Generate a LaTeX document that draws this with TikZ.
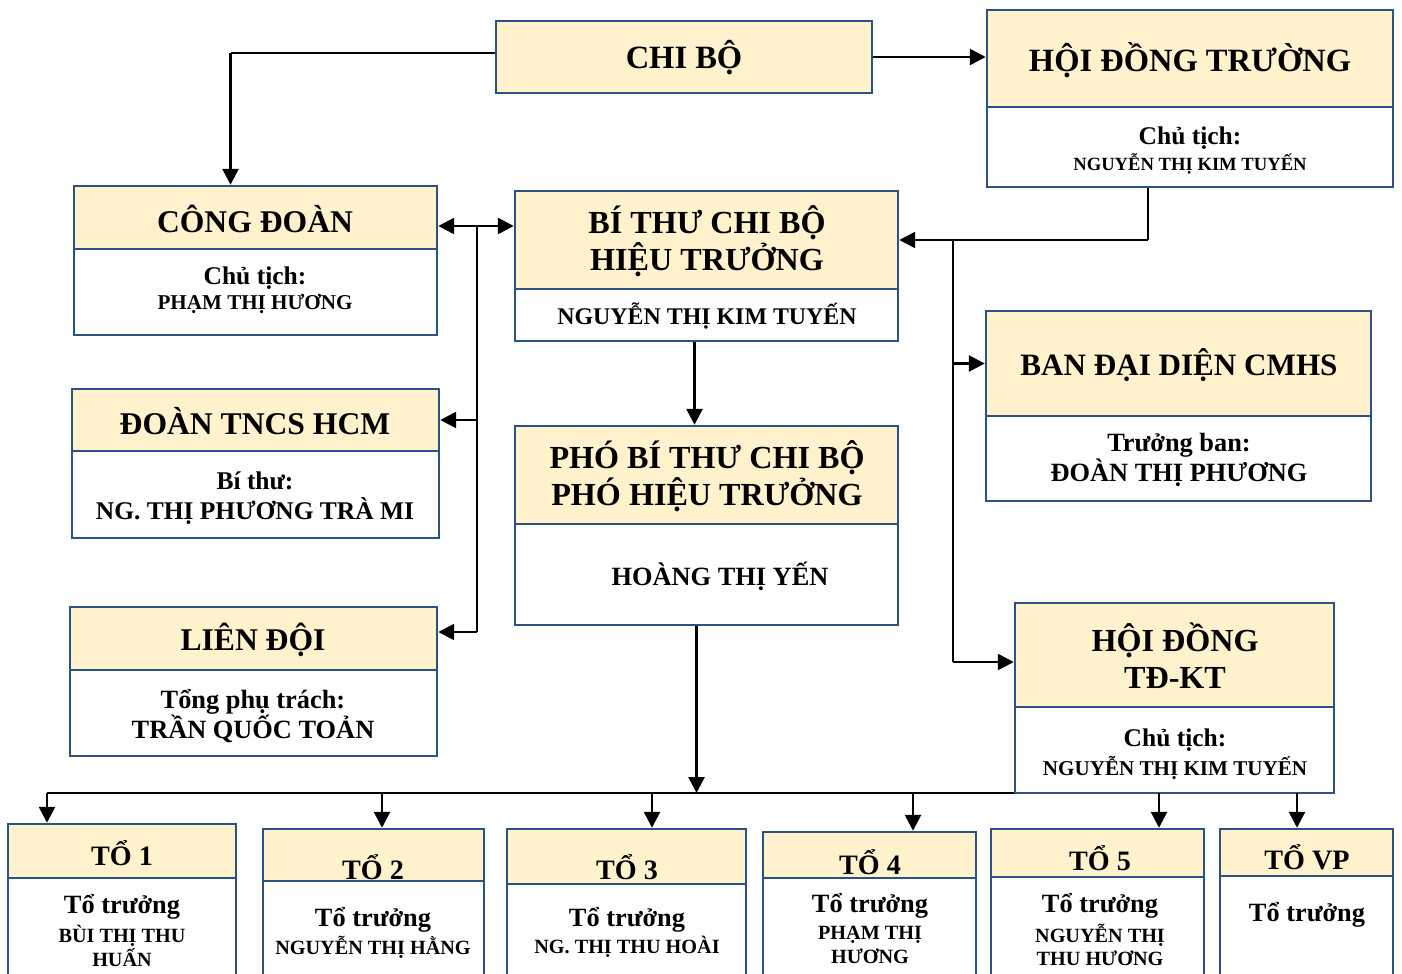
\documentclass[tikz,border=0pt]{standalone}
\usepackage{fontspec}
\setmainfont{Liberation Serif}
\usetikzlibrary{arrows.meta,calc,fit}
\definecolor{bord}{RGB}{44,82,130}
\definecolor{cream}{RGB}{255,242,204}
\newcommand\fsz[1]{\fontsize{#1pt}{1.16\dimexpr#1pt\relax}\selectfont}
\tikzset{
  tbox/.style={draw=bord, line width=1.4pt, fill=cream, inner sep=0pt},
  bbox/.style={draw=bord, line width=1.4pt, fill=white, inner sep=0pt},
  txt/.style={inner sep=0pt, align=center, font=\bfseries},
  ln/.style={line width=1.5pt},
  thinln/.style={line width=0.9pt},
  tip/.style={-{Triangle[length=9pt,width=9pt]}},
  tips/.style={{Triangle[length=9pt,width=9pt]}-{Triangle[length=9pt,width=9pt]}},
}
\newcommand\orgbox[6]{%
  \node[tbox, fit={(#2,#3) (#4,#5)}] (#1T) {};
  \node[bbox, fit={(#2,#5) (#4,#6)}] (#1B) {};}
\begin{document}
\begin{tikzpicture}[x=0.02cm,y=-0.02cm]
\useasboundingbox (0,0) rectangle (1402,973);
% bus (drawn first, under the boxes)
\coordinate (busL) at (47,793);
\coordinate (busR) at (1297,793);
\draw[thinln] (busL) -- (busR);
% boxes
\node[tbox, fit={(496,21) (872,93)}] (chibo) {};
\orgbox{hdt}{987}{10}{1393}{107}{187}
\orgbox{cd}{74}{186}{437}{249}{335}
\orgbox{bt}{515}{191}{898}{289}{341}
\orgbox{dt}{72}{389}{439}{451}{538}
\orgbox{pbt}{515}{426}{898}{524}{625}
\orgbox{bdd}{986}{311}{1371}{416}{501}
\orgbox{hdk}{1015}{603}{1334}{707}{793}
\orgbox{ld}{70}{607}{437}{670}{756}
\orgbox{ta}{8}{824}{236}{878}{990}
\orgbox{tb}{263}{829}{484}{881}{990}
\orgbox{tc}{507}{829}{746}{884}{990}
\orgbox{td}{763}{832}{976}{878}{990}
\orgbox{te}{991}{829}{1204}{877}{990}
\orgbox{tf}{1220}{829}{1393}{876}{990}
% texts
\node[txt, font=\bfseries\fsz{18.5}] (chiboX) at (684,58) {CHI BỘ};
\node[txt, font=\bfseries\fsz{18.5}] (hdtX) at (1190,60) {HỘI ĐỒNG TRƯỜNG};
\node[txt, font=\bfseries\fsz{14.5}] (hdtY) at (1190,138) {Chủ tịch:};
\node[txt, font=\bfseries\fsz{10.6}] (hdtZ) at (1190,164) {NGUYỄN THỊ KIM TUYẾN};
\node[txt, font=\bfseries\fsz{18}] (cdX) at (255,219) {CÔNG ĐOÀN};
\node[txt, font=\bfseries\fsz{14.5}] (cdY) at (255,278) {Chủ tịch:};
\node[txt, font=\bfseries\fsz{12}] (cdZ) at (255,304) {PHẠM THỊ HƯƠNG};
\node[txt, font=\bfseries\fsz{18.3}] (btX) at (707,241) {BÍ THƯ CHI BỘ\\HIỆU TRƯỞNG};
\node[txt, font=\bfseries\fsz{13.6}] (btY) at (707,316) {NGUYỄN THỊ KIM TUYẾN};
\node[txt, font=\bfseries\fsz{18}] (dtX) at (255,421) {ĐOÀN TNCS HCM};
\node[txt, font=\bfseries\fsz{14.5}] (dtY) at (255,498) {Bí thư:\\NG. THỊ PHƯƠNG TRÀ MI};
\node[txt, font=\bfseries\fsz{18.3}] (pbtX) at (707,476) {PHÓ BÍ THƯ CHI BỘ\\PHÓ HIỆU TRƯỞNG};
\node[txt, font=\bfseries\fsz{15}] (pbtY) at (720,576) {HOÀNG THỊ YẾN};
\node[txt, font=\bfseries\fsz{18}] (ldX) at (253,640) {LIÊN ĐỘI};
\node[txt, font=\bfseries\fsz{15}] (ldY) at (253,716) {Tổng phụ trách:\\TRẦN QUỐC TOẢN};
\node[txt, font=\bfseries\fsz{17.7}] (bddX) at (1179,365) {BAN ĐẠI DIỆN CMHS};
\node[txt, font=\bfseries\fsz{15}] (bddY) at (1179,460) {Trưởng ban:\\ĐOÀN THỊ PHƯƠNG};
\node[txt, font=\bfseries\fsz{18.3}] (hdkX) at (1175,656) {HỘI ĐỒNG\\TĐ-KT};
\node[txt, font=\bfseries\fsz{14.5}] (hdkY) at (1175,740) {Chủ tịch:};
\node[txt, font=\bfseries\fsz{12}] (hdkZ) at (1175,768) {NGUYỄN THỊ KIM TUYẾN};
% bottom groups
\node[txt, font=\bfseries\fsz{16}] (taX) at (122,853) {TỔ 1};
\node[txt, font=\bfseries\fsz{15}] (taY) at (122,907) {Tổ trưởng};
\node[txt, font=\bfseries\fsz{11.5}] (taZ) at (122,946) {BÙI THỊ THU\\HUẤN};
\node[txt, font=\bfseries\fsz{16}] (tbX) at (373,867) {TỔ 2};
\node[txt, font=\bfseries\fsz{15}] (tbY) at (373,920) {Tổ trưởng};
\node[txt, font=\bfseries\fsz{11.5}] (tbZ) at (373,947) {NGUYỄN THỊ HẰNG};
\node[txt, font=\bfseries\fsz{16}] (tcX) at (627,867) {TỔ 3};
\node[txt, font=\bfseries\fsz{15}] (tcY) at (627,920) {Tổ trưởng};
\node[txt, font=\bfseries\fsz{11.5}] (tcZ) at (627,947) {NG. THỊ THU HOÀI};
\node[txt, font=\bfseries\fsz{16}] (tdX) at (870,862) {TỔ 4};
\node[txt, font=\bfseries\fsz{15}] (tdY) at (870,906) {Tổ trưởng};
\node[txt, font=\bfseries\fsz{11.5}] (tdZ) at (870,945) {PHẠM THỊ\\HƯƠNG};
\node[txt, font=\bfseries\fsz{16}] (teX) at (1100,858) {TỔ 5};
\node[txt, font=\bfseries\fsz{15}] (teY) at (1100,906) {Tổ trưởng};
\node[txt, font=\bfseries\fsz{11.5}] (teZ) at (1100,945) {NGUYỄN THỊ\\THU HƯƠNG};
\node[txt, font=\bfseries\fsz{16}] (tfX) at (1307,857) {TỔ VP};
\node[txt, font=\bfseries\fsz{15}] (tfY) at (1307,915) {Tổ trưởng};
% connectors
\coordinate (c1) at ($(chibo.west)+(0,-4)$);
\coordinate (c2) at ($(cdT.north)+(-25,0)$);
\draw[thinln] (c1) -- (c1 -| c2);
\draw[ln, tip] (c1 -| c2) -- (c2);
\draw[ln, tip] (chibo.east) -- (hdtT.west |- chibo.east);
\coordinate (h1) at ($(hdtB.south)+(-42,0)$);
\draw[thinln] (h1) -- (h1 |- btT.east);
\draw[ln, tip] (h1 |- btT.east) -- (btT.east);
\coordinate (j2) at (953,240);
\coordinate (j2b) at (953,662);
\draw[thinln] (j2) -- (j2b);
\draw[ln, tip] (j2 |- bddT.west) -- (bddT.west);
\draw[ln, tip] (j2b) -- (hdkT.west |- j2b);
\coordinate (j3) at (477,226);
\coordinate (j3b) at (477,632);
\draw[ln, tips] (cdT.east |- j3) -- (btT.west |- j3);
\draw[thinln] (j3) -- (j3b);
\draw[ln, tip] (j3 |- dtT.east) -- (dtT.east);
\draw[ln, tip] (j3b) -- (ldT.east |- j3b);
\coordinate (b1) at ($(btB.south)+(-12,0)$);
\draw[ln, tip] (b1) -- (b1 |- pbtT.north);
\coordinate (p1) at ($(pbtB.south)+(-10,0)$);
\draw[ln, tip] (p1) -- (p1 |- busL);
\coordinate (d2) at (382,793);
\coordinate (d3) at (652,793);
\coordinate (d4) at (913,793);
\coordinate (d5) at (1159,793);
\draw[ln, tip] (busL) -- (busL |- taT.north);
\draw[ln, tip] (d2) -- (d2 |- tbT.north);
\draw[ln, tip] (d3) -- (d3 |- tcT.north);
\draw[ln, tip] (d4) -- (d4 |- tdT.north);
\draw[ln, tip] (d5) -- (d5 |- teT.north);
\draw[ln, tip] (busR) -- (busR |- tfT.north);
\end{tikzpicture}
\end{document}
